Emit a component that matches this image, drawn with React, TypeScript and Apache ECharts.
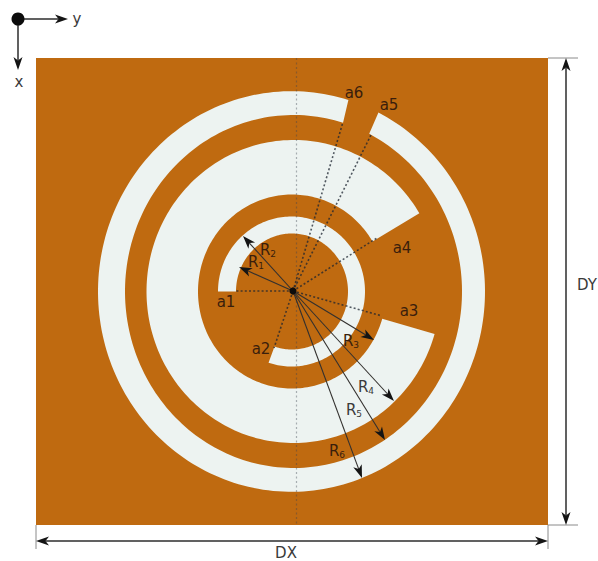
import React, { useEffect, useRef } from "react";
import * as echarts from "echarts";

const WIDTH = 598;
const HEIGHT = 561;

// Board and disc centre, in picture units
const boardX = [36, 548];
const boardY = [58, 525];
const centreY = 291.5;

// Pale rings: [outer cx, outer rx, outer ry, inner cx, inner rx, inner ry, start angle, end angle]
// (angles counter-clockwise from +horizontal)
const ringInner = [291.5, 73.5, 75, 292, 56, 58, -108.2, 180];
const ringMiddle = [293.5, 147, 151.5, 292, 94, 97, 31.1, 343.7];
const ringOuter = [291.5, 193.5, 200.3, 293.5, 168.5, 176.5, 72.9, 423.3];
const rings = [ringOuter, ringMiddle, ringInner];

// Dotted construction lines: [x1, y1, x2, y2]
const dottedLines = [
  [293, 291, 236, 291],
  [293, 291, 274, 348],
  [293, 291, 382, 316],
  [293, 291, 377, 238],
  [293, 291, 371, 135],
  [293, 291, 343, 122],
];
const centreLine = [296.5, 58, 296.5, 525];

// Arrows: [x1, y1, x2, y2]
const radiusTips = [
  [239, 267],
  [243, 236],
  [374, 340],
  [394, 401],
  [385, 440],
  [362, 478],
];
const dimensionArrows = [
  [18, 19, 68, 19],
  [18, 19, 18, 70],
  [566, 291, 566, 58],
  [566, 291, 566, 525],
  [292, 541, 36, 541],
  [292, 541, 548, 541],
];
const extensionLines = [
  [548, 58, 578, 58],
  [548, 525, 578, 525],
  [36, 525, 36, 549],
  [548, 525, 548, 549],
];

// Labels
const labelNames = ["a", "a", "a", "a", "a", "a", "R", "R", "R", "R", "R", "R", "x", "y", "DX", "DY"];
const labelSubs = ["1", "2", "3", "4", "5", "6", "1", "2", "3", "4", "5", "6", "", "", "", ""];
const labelX = [226, 261, 409, 402, 389, 354, 256, 268, 351, 366, 354, 337, 19, 77, 286, 587];
const labelY = [302, 349, 311, 248, 105, 93, 262, 250, 341, 387, 410, 451, 82, 19, 553, 285];
const labelDark = [1, 1, 1, 1, 1, 1, 1, 1, 1, 0, 0, 1, 0, 0, 0, 0];

const BROWN = "#bf6a10";
const PALE = "#edf3f1";
const FONT = "DejaVu Sans";

function ringPoints(api: any, r: number[]) {
  const pts: number[][] = [];
  const [cxO, rxO, ryO, cxI, rxI, ryI, a0, a1] = r;
  const steps = Math.ceil(Math.abs(a1 - a0) / 1.5);
  const at = (cx: number, rx: number, ry: number, deg: number) => {
    const t = (deg * Math.PI) / 180;
    return api.coord([cx + rx * Math.cos(t), centreY - ry * Math.sin(t)]);
  };
  for (let i = 0; i <= steps; i++) pts.push(at(cxO, rxO, ryO, a0 + ((a1 - a0) * i) / steps));
  for (let i = steps; i >= 0; i--) pts.push(at(cxI, rxI, ryI, a0 + ((a1 - a0) * i) / steps));
  return pts;
}

function arrow(api: any, s: number[], color: string, width: number) {
  const a = api.coord([s[0], s[1]]);
  const b = api.coord([s[2], s[3]]);
  const d = Math.hypot(b[0] - a[0], b[1] - a[1]) || 1;
  const u = [(b[0] - a[0]) / d, (b[1] - a[1]) / d];
  const n = [-u[1], u[0]];
  const L = 13;
  const W = 4.5;
  const back = [b[0] - u[0] * L, b[1] - u[1] * L];
  const notch = [b[0] - u[0] * (L - 3.5), b[1] - u[1] * (L - 3.5)];
  return {
    type: "group",
    children: [
      {
        type: "line",
        shape: { x1: a[0], y1: a[1], x2: notch[0], y2: notch[1] },
        style: { stroke: color, lineWidth: width },
      },
      {
        type: "polygon",
        shape: {
          points: [
            b,
            [back[0] + n[0] * W, back[1] + n[1] * W],
            notch,
            [back[0] - n[0] * W, back[1] - n[1] * W],
          ],
        },
        style: { fill: "#141414" },
      },
    ],
  };
}

const indices = (n: number) => Array.from({ length: n }, (_, i) => [i, i]);

export default function App() {
  const ref = useRef<HTMLDivElement>(null);
  useEffect(() => {
    const chart = echarts.init(ref.current!, null, { renderer: "svg" });
    const radiusArrows = radiusTips.map((t) => [293, 291, t[0], t[1]]);
    const custom = (n: number, z: number, renderItem: any) => ({
      type: "custom",
      coordinateSystem: "cartesian2d",
      data: indices(n),
      z,
      silent: true,
      clip: false,
      renderItem,
    });
    chart.setOption({
      animation: false,
      backgroundColor: "#ffffff",
      grid: { left: 0, right: 0, top: 0, bottom: 0 },
      xAxis: { type: "value", min: 0, max: WIDTH, show: false },
      yAxis: { type: "value", min: 0, max: HEIGHT, inverse: true, show: false },
      series: [
        custom(1, 1, (_p: any, api: any) => {
          const a = api.coord([boardX[0], boardY[0]]);
          const b = api.coord([boardX[1], boardY[1]]);
          return {
            type: "rect",
            shape: { x: a[0], y: a[1], width: b[0] - a[0], height: b[1] - a[1] },
            style: { fill: BROWN },
          };
        }),
        custom(rings.length, 2, (p: any, api: any) => ({
          type: "polygon",
          shape: { points: ringPoints(api, rings[p.dataIndex]) },
          style: { fill: PALE },
        })),
        custom(1, 3, (_p: any, api: any) => {
          const a = api.coord([centreLine[0], centreLine[1]]);
          const b = api.coord([centreLine[2], centreLine[3]]);
          return {
            type: "line",
            shape: { x1: a[0], y1: a[1], x2: b[0], y2: b[1] },
            style: { stroke: "#3c4450", opacity: 0.4, lineWidth: 1.2, lineDash: [2, 2.5] },
          };
        }),
        custom(dottedLines.length, 4, (p: any, api: any) => {
          const s = dottedLines[p.dataIndex];
          const a = api.coord([s[0], s[1]]);
          const b = api.coord([s[2], s[3]]);
          return {
            type: "line",
            shape: { x1: a[0], y1: a[1], x2: b[0], y2: b[1] },
            style: { stroke: "#1c2430", opacity: 0.75, lineWidth: 1.6, lineDash: [2, 2.2] },
          };
        }),
        custom(extensionLines.length, 5, (p: any, api: any) => {
          const s = extensionLines[p.dataIndex];
          const a = api.coord([s[0], s[1]]);
          const b = api.coord([s[2], s[3]]);
          return {
            type: "line",
            shape: { x1: a[0], y1: a[1], x2: b[0], y2: b[1] },
            style: { stroke: "#8a8a8a", lineWidth: 1 },
          };
        }),
        custom(radiusArrows.length, 6, (p: any, api: any) =>
          arrow(api, radiusArrows[p.dataIndex], "#33302e", 1.1)
        ),
        custom(dimensionArrows.length, 6, (p: any, api: any) =>
          arrow(api, dimensionArrows[p.dataIndex], "#2c2c2c", 1.5)
        ),
        custom(2, 7, (p: any, api: any) => {
          const c = p.dataIndex === 0 ? api.coord([293, 291]) : api.coord([18, 19]);
          return {
            type: "circle",
            shape: { cx: c[0], cy: c[1], r: p.dataIndex === 0 ? 3.6 : 6.5 },
            style: { fill: "#0c0c0c" },
          };
        }),
        custom(labelNames.length, 8, (p: any, api: any) => {
          const i = p.dataIndex;
          const c = api.coord([labelX[i], labelY[i]]);
          const fill = labelDark[i] ? "#3a1e0c" : "#3a3a3a";
          const sub = labelSubs[i];
          const isA = labelNames[i] === "a";
          const text = sub ? (isA ? `a${sub}` : `R{s|${sub}}`) : labelNames[i];
          return {
            type: "text",
            x: c[0],
            y: c[1],
            style: {
              text,
              fill,
              font: `15px "${FONT}"`,
              align: "center",
              verticalAlign: "middle",
              rich: {
                s: { fontSize: 9, fontFamily: FONT, fill, padding: [7, 0, 0, 0] },
              },
            },
          };
        }),
      ],
    });
    return () => chart.dispose();
  }, []);
  return (
    <div
      ref={ref}
      style={{ position: "absolute", left: 0, top: 0, width: WIDTH, height: HEIGHT }}
    />
  );
}
